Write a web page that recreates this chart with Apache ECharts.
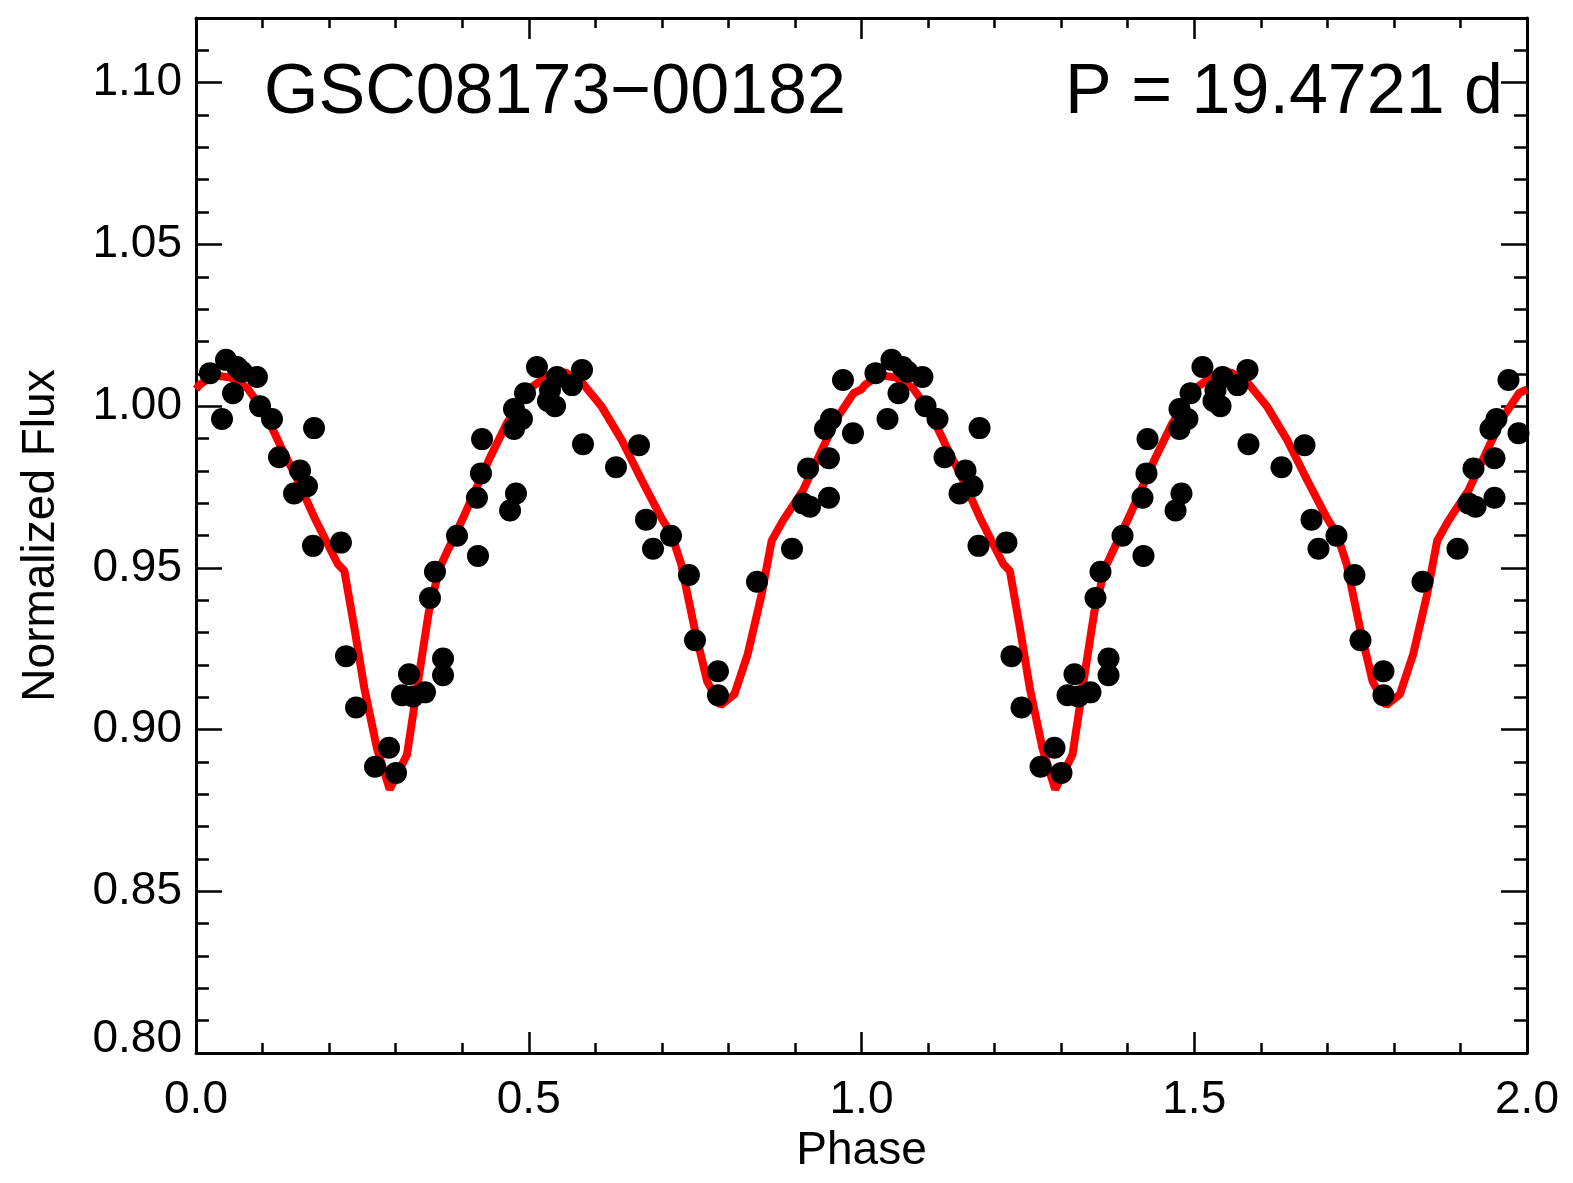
<!DOCTYPE html>
<html>
<head>
<meta charset="utf-8">
<script src="https://cdn.jsdelivr.net/npm/echarts@6/dist/echarts.min.js"></script>
<style>
html,body{margin:0;padding:0;background:#fff;overflow:hidden;}
#chart{width:100vw;height:100vh;}
</style>
</head>
<body>
<div id="chart"></div>
<script>
// Observed points (phase in one cycle, normalized flux)
const obsPhase = [
0.0210,0.0451,0.0391,0.0556,0.0616,0.0691,0.0916,0.0962,0.1142,0.1774,
0.1247,0.1563,0.1668,0.1473,0.1758,0.2178,0.2254,0.2405,0.2690,0.2900,
0.3005,0.3096,0.3200,0.3261,0.3441,0.3516,0.3591,0.3712,0.3712,0.3922,
0.4237,0.4222,0.4282,0.4298,0.4719,0.4808,0.4778,0.4898,0.4778,0.4944,
0.5123,0.5289,0.5319,0.5395,0.5425,0.5650,0.5800,0.5815,0.6311,0.6657,
0.6762,0.6867,0.7137,0.7407,0.7498,0.7843,0.7843,0.8430,0.8956,0.9121,
0.9226,0.9196,0.9511,0.9511,0.9451,0.9541,0.9872,0.9722
];
const obsFlux = [
1.0102,1.0143,0.9960,1.0040,1.0121,1.0106,1.0090,1.0000,0.9960,0.9932,
0.9842,0.9801,0.9752,0.9730,0.9568,0.9578,0.9227,0.9068,0.8885,0.8944,
0.8866,0.9106,0.9171,0.9102,0.9115,0.9407,0.9488,0.9220,0.9168,0.9599,
0.9537,0.9717,0.9792,0.9898,0.9677,0.9730,0.9991,0.9960,0.9929,1.0040,
1.0121,1.0016,1.0050,1.0000,1.0090,1.0065,1.0112,0.9882,0.9811,0.9879,
0.9649,0.9559,0.9599,0.9478,0.9276,0.9180,0.9106,0.9457,0.9559,0.9699,
0.9689,0.9807,0.9717,0.9839,0.9929,0.9960,0.9916,1.0081
];
// Model light curve (one cycle)
const modelPhase = [
0.000,0.005,0.026,0.052,0.077,0.103,0.128,0.153,0.178,0.213,
0.223,0.238,0.253,0.272,0.291,0.317,0.333,0.350,0.366,0.378,
0.403,0.442,0.467,0.502,0.531,0.555,0.580,0.610,0.640,0.670,
0.699,0.714,0.729,0.749,0.768,0.788,0.809,0.829,0.850,0.865,
0.882,0.912,0.938,0.964,0.988,1.000
];
const modelFlux = [
1.0052,1.0065,1.0096,1.0088,1.0056,0.9981,0.9873,0.9770,0.9655,0.9512,
0.9490,0.9314,0.9127,0.8941,0.8815,0.8922,0.9140,0.9366,0.9500,0.9553,
0.9662,0.9842,0.9947,1.0055,1.0098,1.0104,1.0073,0.9997,0.9894,0.9770,
0.9655,0.9606,0.9512,0.9314,0.9149,0.9075,0.9109,0.9233,0.9419,0.9584,
0.9646,0.9739,0.9854,0.9966,1.0040,1.0052
];
const cycles = [0, 1];
const xTicks = {min:0, max:2, major:0.5, minor:0.1};
const yTicks = {min:0.80, max:1.12, major:0.05, minor:0.01};
const starName = 'GSC08173\u221200182';
const periodText = 'P = 19.4721 d';

const obsData = [];
cycles.forEach(c => obsPhase.forEach((p,i) => obsData.push([p + c, obsFlux[i]])));
const modelData = [];
cycles.forEach(c => modelPhase.forEach((p,i) => {
  if (c > 0 && i === 0) return;
  modelData.push([p + c, modelFlux[i]]);
}));

const FONT = 'Liberation Sans';
const lineStyle = {color:'#000', width:3};
const tickStyle = {color:'#000', width:2.5};

function xAx(pos, interval, len, labels, line, extra){
  return Object.assign({
    type:'value', position:pos, min:xTicks.min, max:xTicks.max, interval:interval,
    axisLine:{show:line, onZero:false, lineStyle:lineStyle},
    axisTick:{show:true, inside:true, length:len, lineStyle:tickStyle},
    axisLabel:{show:labels, color:'#000', fontFamily:FONT, fontSize:46, margin:24,
      formatter: v => v.toFixed(1)},
    splitLine:{show:false}
  }, extra||{});
}
function yAx(pos, interval, len, labels, line, extra){
  return Object.assign({
    type:'value', position:pos, min:yTicks.min, max:yTicks.max, interval:interval,
    axisLine:{show:line, onZero:false, lineStyle:lineStyle},
    axisTick:{show:true, inside:true, length:len, lineStyle:tickStyle},
    axisLabel:{show:labels, color:'#000', fontFamily:FONT, fontSize:46, margin:14,
      showMaxLabel:false,
      formatter: v => Math.abs(v - yTicks.min) < 1e-9 ? '{lo|' + v.toFixed(2) + '}' : v.toFixed(2),
      rich:{lo:{fontFamily:FONT, fontSize:46, color:'#000', padding:[0,0,28,0]}}},
    splitLine:{show:false}
  }, extra||{});
}

const chart = echarts.init(document.getElementById('chart'), null, {renderer:'canvas'});
chart.setOption({
  animation:false,
  backgroundColor:'#fff',
  grid:{left:196, right:46, top:18, bottom:130, containLabel:false},
  title:[
    {text:starName, left:259, top:54, textStyle:{fontFamily:FONT, fontSize:70, fontWeight:'normal', color:'#000'}},
    {text:periodText, right:65, top:54, textStyle:{fontFamily:FONT, fontSize:70, fontWeight:'normal', color:'#000'}}
  ],
  xAxis:[
    xAx('bottom', xTicks.major, 21, true, true, {name:'Phase', nameLocation:'middle', nameGap:75,
      nameTextStyle:{fontFamily:FONT, fontSize:46, color:'#000'}}),
    xAx('bottom', xTicks.minor, 10, false, false),
    xAx('top', xTicks.major, 21, false, true),
    xAx('top', xTicks.minor, 10, false, false)
  ],
  yAxis:[
    yAx('left', yTicks.major, 26, true, true, {name:'Normalized Flux', nameLocation:'middle', nameGap:132,
      nameTextStyle:{fontFamily:FONT, fontSize:46, color:'#000'}}),
    yAx('left', yTicks.minor, 13, false, false),
    yAx('right', yTicks.major, 26, false, true),
    yAx('right', yTicks.minor, 13, false, false)
  ],
  series:[
    {type:'line', data:modelData, xAxisIndex:0, yAxisIndex:0, symbol:'none', smooth:false,
      lineStyle:{color:'#ff0000', width:8}, z:2},
    {type:'scatter', data:obsData, xAxisIndex:0, yAxisIndex:0, symbol:'circle', symbolSize:22,
      itemStyle:{color:'#000', opacity:1}, z:3}
  ]
});
</script>
</body>
</html>
